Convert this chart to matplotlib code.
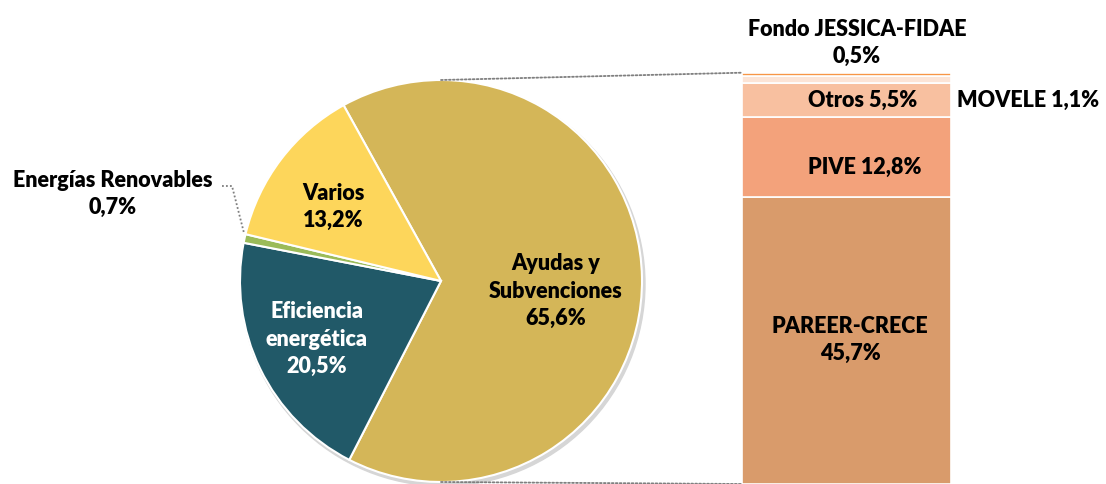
import matplotlib.pyplot as plt
from matplotlib.patches import ConnectionPatch, Circle

# datos del gráfico de tarta (%)
pie_labels = ["Ayudas y\nSubvenciones", "Eficiencia\nenergética", "Energías Renovables", "Varios"]
pie_values = [65.6, 20.5, 0.7, 13.2]
pie_colors = ["#D4B658", "#215968", "#9BBB59", "#FDD65B"]

# desglose de "Ayudas y Subvenciones" (de abajo a arriba)
bar_labels = ["PAREER-CRECE", "PIVE", "Otros", "MOVELE", "Fondo JESSICA-FIDAE"]
bar_values = [45.7, 12.8, 5.5, 1.1, 0.5]
bar_colors = ["#D99B6B", "#F3A27B", "#F8C0A0", "#FCE4D6", "#F79646"]

W, H = 1106, 484
fig = plt.figure(figsize=(W / 100, H / 100), dpi=100)
plt.rcParams['font.family'] = ['Lato', 'DejaVu Sans']


def fmt(v):
    return f"{v:.1f}".replace(".", ",") + "%"


def put(x, y, s, color="black", **kw):
    # coordenadas en píxeles de la imagen
    fig.text(x / W, 1 - y / H, s, ha="center", va="center", fontsize=15.5,
             fontweight="heavy", color=color, linespacing=1.4, **kw)


# tarta
ax = fig.add_axes([0, 0, 1, 1])
cx, cy, r = 441, H - 281, 201
ax.add_patch(Circle((cx + 2, cy - 3), r + 1, color="#d6d6d6", zorder=0))
wedges, _ = ax.pie(pie_values, colors=pie_colors, startangle=119, counterclock=False,
                   center=(cx, cy), radius=r,
                   wedgeprops=dict(edgecolor="white", linewidth=1.5))
ax.set_xlim(0, W)
ax.set_ylim(0, H)
ax.set_aspect("equal")
ax.axis("off")

# barra
top_y = 72.7
bx0, bx1 = 742, 951
axb = fig.add_axes([bx0 / W, 0, (bx1 - bx0) / W, (H - top_y) / H])
bottom = 0
for v, c in zip(bar_values, bar_colors):
    axb.bar(0.5, v, width=1, bottom=bottom, color=c, edgecolor="white", linewidth=1.2)
    bottom += v
axb.set_xlim(0, 1)
axb.set_ylim(0, sum(bar_values))
axb.axis("off")

# líneas de conexión
for ya, yb in [(cy + r, sum(bar_values)), (cy - r, 0)]:
    con = ConnectionPatch(xyA=(cx, ya), coordsA=ax.transData,
                          xyB=(0, yb), coordsB=axb.transData,
                          color="#7f7f7f", linestyle=(0, (1, 1.2)), linewidth=1.3)
    fig.add_artist(con)

# líneas guía de Energías Renovables
ax.plot([222, 232, 244], [H - 186, H - 186, H - 233], color="#7f7f7f",
        linestyle=(0, (1, 1.2)), linewidth=1.3)

# etiquetas
put(556, 291, pie_labels[0] + "\n" + fmt(pie_values[0]))
put(317, 339, pie_labels[1] + "\n" + fmt(pie_values[1]), color="white")
put(113, 194, pie_labels[2] + "\n" + fmt(pie_values[2]))
put(333, 207, pie_labels[3] + "\n" + fmt(pie_values[3]))

put(850, 340, bar_labels[0] + "\n" + fmt(bar_values[0]))
put(865, 167, bar_labels[1] + " " + fmt(bar_values[1]))
put(863, 100, bar_labels[2] + " " + fmt(bar_values[2]))
put(1028, 100, bar_labels[3] + " " + fmt(bar_values[3]))
put(857, 43, bar_labels[4] + "\n" + fmt(bar_values[4]))

plt.savefig("out.png", dpi=100)
